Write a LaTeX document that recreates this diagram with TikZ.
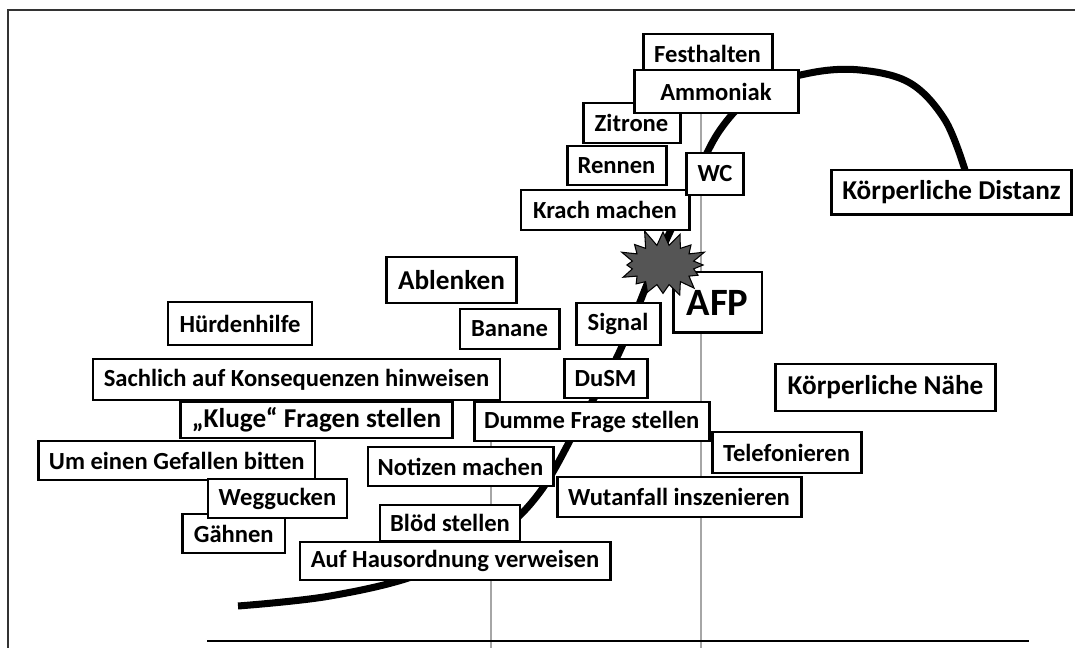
\documentclass[tikz,border=0pt]{standalone}
\usepackage{fontspec}
\setmainfont{Carlito}
\usetikzlibrary{shapes.symbols}

\begin{document}
\begin{tikzpicture}[x=0.02cm,y=-0.02cm,
  mybox/.style={draw,line width=1.7pt,fill=white,inner sep=0pt,font=\fontsize{14}{16}\selectfont\bfseries},
  bigbox/.style={mybox,font=\fontsize{15.5}{18}\selectfont\bfseries}]
\definecolor{guide}{HTML}{A6A6A6}
\definecolor{bang}{HTML}{555555}
\useasboundingbox (0,0) rectangle (1075,648);
% frame
\draw[line width=1.2pt,black!80] (8,648) -- (8,10) -- (1075,10);
% guide lines and base line
\draw[guide,line width=1.2pt] (491,441) -- (491,648);
\draw[guide,line width=1.2pt] (701,113) -- (701,648);
\draw[line width=1.4pt] (207,641) -- (1029,641);
% the curve
\coordinate (start) at (238,606);
\coordinate (peak) at (965,170);
\draw[line width=4pt] plot[smooth,tension=0.6] coordinates {(start) (330,596) (420,574) (495,535) (540,492) (580,422) (618,355) (655,265) (690,190) (720,130) (760,90) (810,73) (860,70) (910,83) (945,120) (peak)};
% boxes
\foreach \nm/\cx/\cy/\boxw/\boxh/\txt in {
  fest/707.5/54/129/40/Festhalten,
  zit/631.5/123/97/40/Zitrone,
  ren/616.5/165.5/99/39/Rennen,
  krach/605/210/168/40/Krach machen,
  wc/715/174/57/42/WC,
  amm/716/91.5/164/43/Ammoniak,
  huerde/240/323.5/144/43/Hürdenhilfe,
  banane/509.5/329/99/40/Banane,
  signal/618/324/84/42/Signal,
  dusm/605.5/378.5/83/39/DuSM,
  sachlich/296.5/379.5/407/41/Sachlich auf Konsequenzen hinweisen,
  dumme/591.75/421.5/234.5/39/Dumme Frage stellen,
  um/176.8/460.5/276.4/39/Um einen Gefallen bitten,
  notiz/460.5/466.5/185/39/Notizen machen,
  telef/786.5/452.5/149/41/Telefonieren,
  wut/679/497/244/40/Wutanfall inszenieren,
  gaehnen/233.75/533.5/102.5/39/Gähnen,
  weg/277.5/498.5/139/39/Weggucken,
  bloed/450/523/140/36/Blöd stellen,
  haus/455/561/310/38/Auf Hausordnung verweisen}
  {\node[mybox,minimum width=\boxw*0.02cm,minimum height=\boxh*0.02cm] (\nm) at (\cx,\cy) {\txt};}
\node[bigbox,minimum width=2.62cm,minimum height=0.92cm] (ablenken) at (451.5,280) {Ablenken};
\node[bigbox,minimum width=5.46cm,minimum height=0.72cm] (kluge) at (316.5,420) {„Kluge“ Fragen stellen};
\node[bigbox,minimum width=4.82cm,minimum height=0.9cm] (dist) at (951.5,192.5) {Körperliche Distanz};
\node[bigbox,minimum width=4.42cm,minimum height=0.94cm] (naehe) at (885.5,387.5) {Körperliche Nähe};
\node[mybox,font=\fontsize{22}{24}\selectfont\bfseries,minimum width=1.78cm,minimum height=1.22cm] (afp) at (717.5,302.5) {AFP};
% the bang
\node[starburst,random starburst=11,starburst points=16,starburst point height=0.35cm,
  minimum width=1.95cm,minimum height=1.5cm,draw,line width=0.6pt,fill=bang] (bang) at (663,265) {};
\end{tikzpicture}
\end{document}
